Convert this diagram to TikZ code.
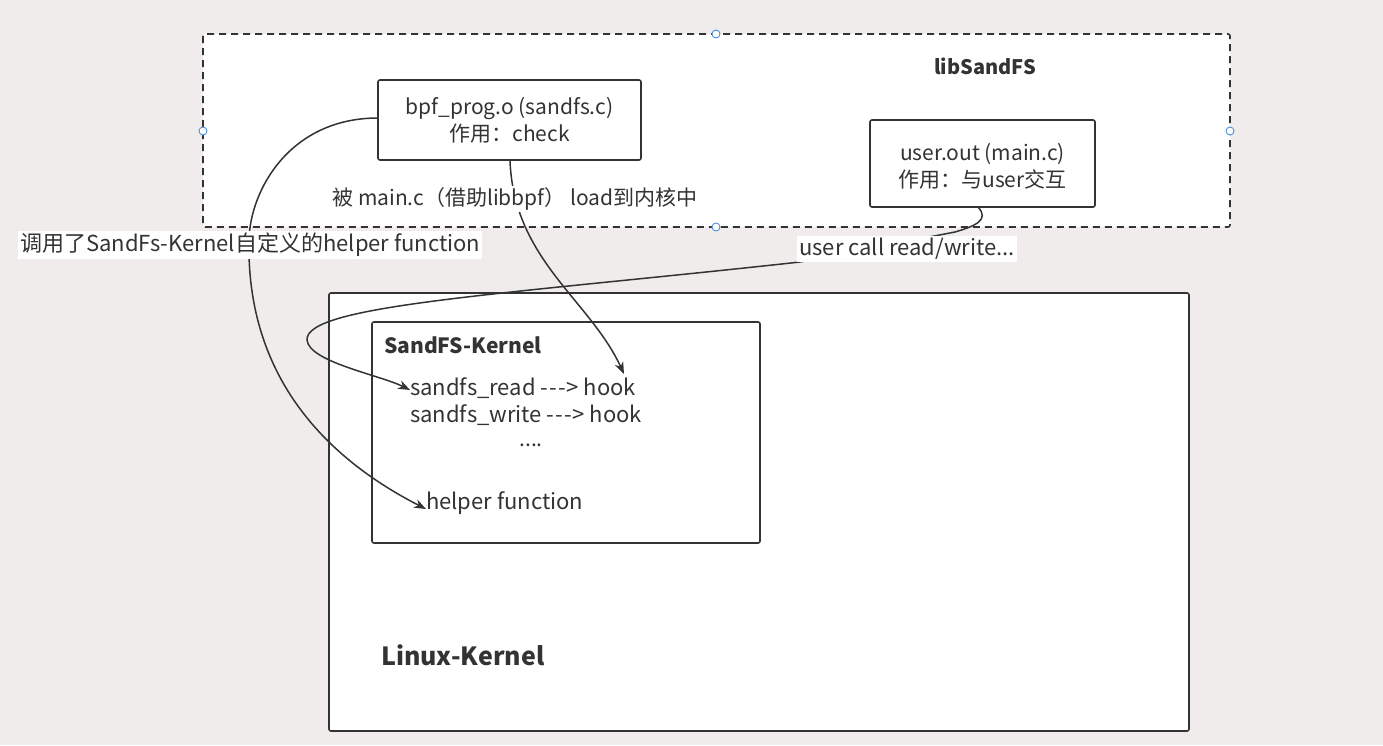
\documentclass[tikz,border=0pt]{standalone}
\usepackage{fontspec}
\setmainfont{Noto Sans CJK SC}
\usetikzlibrary{arrows.meta}
\definecolor{bg}{HTML}{EFECEB}
\definecolor{ink}{HTML}{333333}
\definecolor{handle}{HTML}{4A8FE0}
\newcommand{\arr}{-\kern1.2pt-\kern1.2pt-\kern0.6pt>}
\tikzset{
  box/.style={draw=ink, line width=1.6pt, fill=white, rounded corners=2pt},
  conn/.style={draw=ink, line width=1.5pt, -{Stealth[length=12pt,width=9pt]}},
  txt/.style={text=ink, font=\fontsize{21}{27}\selectfont, inner sep=2pt},
  ktxt/.style={text=ink, font=\fontsize{22}{28}\selectfont, inner sep=0pt, anchor=west},
  lbl/.style={txt, fill=white, inner sep=2pt},
  handlestyle/.style={circle, draw=handle, fill=white, line width=0.9pt, minimum size=8pt, inner sep=0pt}
}
\begin{document}
\begin{tikzpicture}[x=1pt,y=-1pt]
\useasboundingbox (0,0) rectangle (1383,745);
\fill[bg] (0,0) rectangle (1383,745);
% libSandFS dashed container
\draw[draw=ink, line width=1.6pt, fill=white, dash pattern=on 7pt off 5pt, rounded corners=2pt] (203,34) rectangle (1230,227);
\node[txt, font=\fontsize{20}{26}\selectfont\bfseries] (lib) at (985,66) {libSandFS};
% bpf box
\draw[box] (378,80) rectangle (641,160);
\node[txt, align=center] (bpf) at (509.5,120) {bpf\_prog.o (sandfs.c)\\作用：check};
\coordinate (bpfW) at (378,118);
\coordinate (bpfS) at (510,161);
% user box
\draw[box] (870,120) rectangle (1095,207);
\node[txt, align=center] (user) at (982.5,166) {user.out (main.c)\\作用：与user交互};
\coordinate (userS) at (978,207);
% Linux kernel
\draw[box] (329,293) rectangle (1189,731);
\node[txt, font=\fontsize{25}{31}\selectfont\bfseries, anchor=west] (linux) at (379,655) {Linux-Kernel};
% SandFS kernel
\draw[box] (372,322) rectangle (760,543);
\node[txt, font=\fontsize{21}{27}\selectfont\bfseries, anchor=west] (sk) at (382,345) {SandFS-Kernel};
\node[ktxt] (read) at (410,388) {sandfs\_read \arr{} hook};
\node[ktxt] (write) at (410,415) {sandfs\_write \arr{} hook};
\node[txt] (dots) at (531,445) {....};
\node[ktxt] (helper) at (426,503) {helper function};
\coordinate (hook) at (624,374);
% connectors
\draw[conn] (bpfW) .. controls (290,118) and (250,190) .. (249,240)
  .. controls (246,380) and (330,460) .. ([yshift=-6pt]helper.west);
\draw[conn] (bpfS) .. controls (514,260) and (590,300) .. (hook);
\draw[conn] (userS) .. controls (990,220) and (975,226) .. (955,232)
  -- (800,262) .. controls (500,295) and (305,305) .. (307,340)
  .. controls (309,362) and (380,375) .. ([yshift=-2pt]read.west);
% labels on connectors
\node[lbl] (l1) at (515,199) {被 main.c（借助libbpf） load到内核中};
\node[lbl, anchor=west, font=\fontsize{22}{28}\selectfont] (l2) at (18,245) {调用了SandFs-Kernel自定义的helper function};
\node[lbl, anchor=west, font=\fontsize{22}{28}\selectfont] (l3) at (797,249) {user call read/write...};
% selection handles
\node[handlestyle] (h1) at (716,34) {};
\node[handlestyle] (h2) at (203,131) {};
\node[handlestyle] (h3) at (1230,131) {};
\node[handlestyle] (h4) at (716,227) {};
\end{tikzpicture}
\end{document}
